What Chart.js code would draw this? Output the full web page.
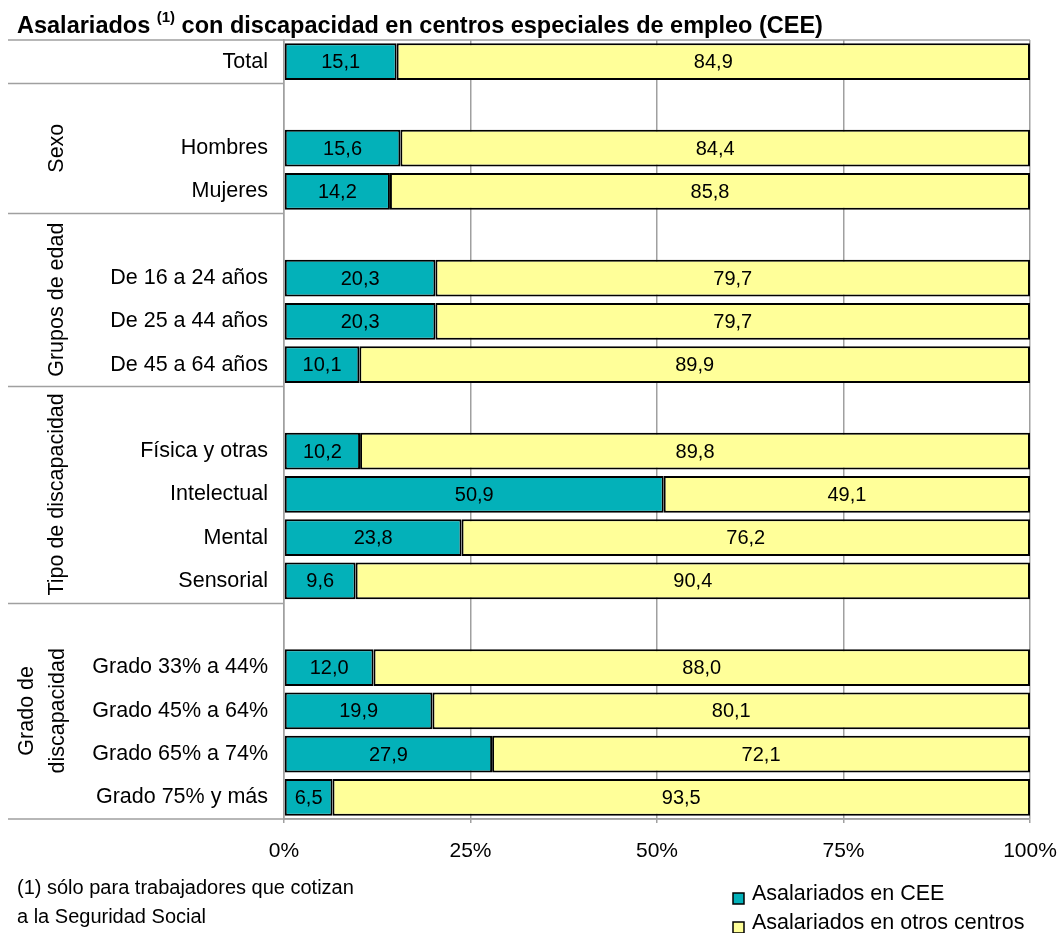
<!DOCTYPE html>
<html>
<head>
<meta charset="utf-8">
<script src="https://cdn.jsdelivr.net/npm/chart.js@4.4.1/dist/chart.umd.min.js"></script>
<style>
  html, body { margin: 0; padding: 0; background: #fff; }
  #wrap { width: 1059px; height: 933px; position: relative; }
</style>
</head>
<body>
<div id="wrap"><canvas id="bar-chart"></canvas></div>
<script>
// categorias (las filas vacias separan los grupos)
let categories = ["Total", "", "Hombres", "Mujeres", "", "De 16 a 24 años", "De 25 a 44 años", "De 45 a 64 años", "",
    "Física y otras", "Intelectual", "Mental", "Sensorial", "",
    "Grado 33% a 44%", "Grado 45% a 64%", "Grado 65% a 74%", "Grado 75% y más"];

let enCEE = [15.1, null, 15.6, 14.2, null, 20.3, 20.3, 10.1, null, 10.2, 50.9, 23.8, 9.6, null, 12.0, 19.9, 27.9, 6.5];
let otrosCentros = [84.9, null, 84.4, 85.8, null, 79.7, 79.7, 89.9, null, 89.8, 49.1, 76.2, 90.4, null, 88.0, 80.1, 72.1, 93.5];

let seriesNames = ["Asalariados en CEE", "Asalariados en otros centros"];
let xTicks = [0, 25, 50, 75, 100];

// grupos: nombre (lineas), primera y ultima fila
let groups = [
    { lines: ["Sexo"], from: 1, to: 3 },
    { lines: ["Grupos de edad"], from: 4, to: 7 },
    { lines: ["Tipo de discapacidad"], from: 8, to: 12 },
    { lines: ["Grado de", "discapacidad"], from: 13, to: 17 },
];

let tealColor = "#03b1b9";
let yellowColor = "#ffff99";
let font = "Liberation Sans, Arial, sans-serif";

let extrasPlugin = {
    id: "extras",
    afterDatasetsDraw(chart) {
        let ctx = chart.ctx;
        let yScale = chart.scales.y;
        let area = chart.chartArea;

        // numeros dentro de las barras
        ctx.save();
        ctx.fillStyle = "#000";
        ctx.font = "20px " + font;
        ctx.textAlign = "center";
        ctx.textBaseline = "middle";
        chart.data.datasets.forEach((ds, di) => {
            let meta = chart.getDatasetMeta(di);
            meta.data.forEach((bar, i) => {
                if (ds.data[i] == null) return;
                let left = Math.min(bar.x, bar.base);
                let right = Math.max(bar.x, bar.base);
                ctx.fillText(ds.data[i].toFixed(1).replace(".", ","), (left + right) / 2, bar.y + 1);
            });
        });
        ctx.restore();

        // lineas de separacion a la izquierda
        let half = (yScale.getPixelForValue(1) - yScale.getPixelForValue(0)) / 2;
        ctx.save();
        ctx.strokeStyle = "#a0a0a0";
        ctx.lineWidth = 1.5;
        ctx.beginPath();
        ctx.moveTo(8, area.top);
        ctx.lineTo(area.right, area.top);
        ctx.moveTo(8, area.bottom);
        ctx.lineTo(area.right, area.bottom);
        groups.forEach(g => {
            let y = Math.round(yScale.getPixelForValue(g.from) - half) + 0.5;
            ctx.moveTo(8, y);
            ctx.lineTo(area.left, y);
        });
        ctx.stroke();
        ctx.restore();

        // nombres de grupo en vertical
        ctx.save();
        ctx.fillStyle = "#000";
        ctx.font = "21.5px " + font;
        ctx.textAlign = "center";
        ctx.textBaseline = "middle";
        groups.forEach(g => {
            let yTop = yScale.getPixelForValue(g.from) - half;
            let yBot = yScale.getPixelForValue(g.to) + half;
            let yc = (yTop + yBot) / 2;
            let n = g.lines.length;
            g.lines.forEach((t, k) => {
                let x = n == 1 ? 57 : 27 + k * 31;
                ctx.save();
                ctx.translate(x, yc);
                ctx.rotate(-Math.PI / 2);
                ctx.fillText(t, 0, 0);
                ctx.restore();
            });
        });
        ctx.restore();

        // titulo
        ctx.save();
        ctx.fillStyle = "#000";
        ctx.textBaseline = "alphabetic";
        ctx.textAlign = "left";
        let tx = 17;
        ctx.font = "bold 23.5px " + font;
        ctx.fillText("Asalariados ", tx, 33);
        tx += ctx.measureText("Asalariados ").width;
        ctx.font = "bold 15px " + font;
        ctx.fillText("(1)", tx, 22);
        tx += ctx.measureText("(1)").width;
        ctx.font = "bold 23.5px " + font;
        ctx.fillText(" con discapacidad en centros especiales de empleo (CEE)", tx, 33);
        ctx.restore();

        // nota al pie
        ctx.save();
        ctx.fillStyle = "#000";
        ctx.font = "20px " + font;
        ctx.textBaseline = "middle";
        ctx.fillText("(1) sólo para trabajadores que cotizan", 17, 888);
        ctx.fillText("a la Seguridad Social", 17, 917);

        // leyenda
        let legendColors = [tealColor, yellowColor];
        ctx.font = "21.5px " + font;
        seriesNames.forEach((name, k) => {
            let y = 894 + k * 29;
            ctx.fillStyle = legendColors[k];
            ctx.fillRect(733, y - 1, 11, 11);
            ctx.strokeStyle = "#000";
            ctx.lineWidth = 1.5;
            ctx.strokeRect(733, y - 1, 11, 11);
            ctx.fillStyle = "#000";
            ctx.fillText(name, 752, y);
        });
        ctx.restore();
    }
};

let barChartEl = document.getElementById('bar-chart');

let config = {
    type: "bar",
    data: {
        labels: categories,
        datasets: [
            {
                label: seriesNames[0],
                data: enCEE,
                backgroundColor: tealColor,
                borderColor: "#000",
                borderWidth: 2,
                borderSkipped: false,
                barPercentage: 0.85,
                categoryPercentage: 1,
            },
            {
                label: seriesNames[1],
                data: otrosCentros,
                backgroundColor: yellowColor,
                borderColor: "#000",
                borderWidth: 2,
                borderSkipped: false,
                barPercentage: 0.85,
                categoryPercentage: 1,
            },
        ],
    },
    options: {
        indexAxis: "y",
        responsive: true,
        maintainAspectRatio: false,
        animation: false,
        layout: {
            padding: { top: 40, right: 29, left: 0, bottom: 0 }
        },
        plugins: {
            legend: { display: false },
            tooltip: { enabled: false },
            title: { display: false },
        },
        scales: {
            x: {
                stacked: true,
                min: 0,
                max: 100,
                afterBuildTicks(scale) {
                    scale.ticks = xTicks.map(v => ({ value: v }));
                },
                afterFit(scale) {
                    scale.height = 114;
                    scale.paddingLeft = 0;
                    scale.paddingRight = 0;
                },
                ticks: {
                    color: "#000",
                    font: { family: font, size: 21 },
                    padding: 16,
                    maxRotation: 0,
                    callback: v => v + "%",
                },
                grid: {
                    color: "#a0a0a0",
                    lineWidth: 1.5,
                    drawTicks: true,
                    tickLength: 4,
                },
                border: { display: true, color: "#a0a0a0", width: 1.5 },
            },
            y: {
                stacked: true,
                afterFit(scale) {
                    scale.width = 284;
                },
                ticks: {
                    color: "#000",
                    font: { family: font, size: 21.5 },
                    padding: 16,
                    autoSkip: false,
                },
                grid: { display: false, drawTicks: false },
                border: { display: true, color: "#a0a0a0", width: 1.5 },
            },
        },
    },
    plugins: [extrasPlugin],
};

let barChart = new Chart(barChartEl, config);
</script>
</body>
</html>
